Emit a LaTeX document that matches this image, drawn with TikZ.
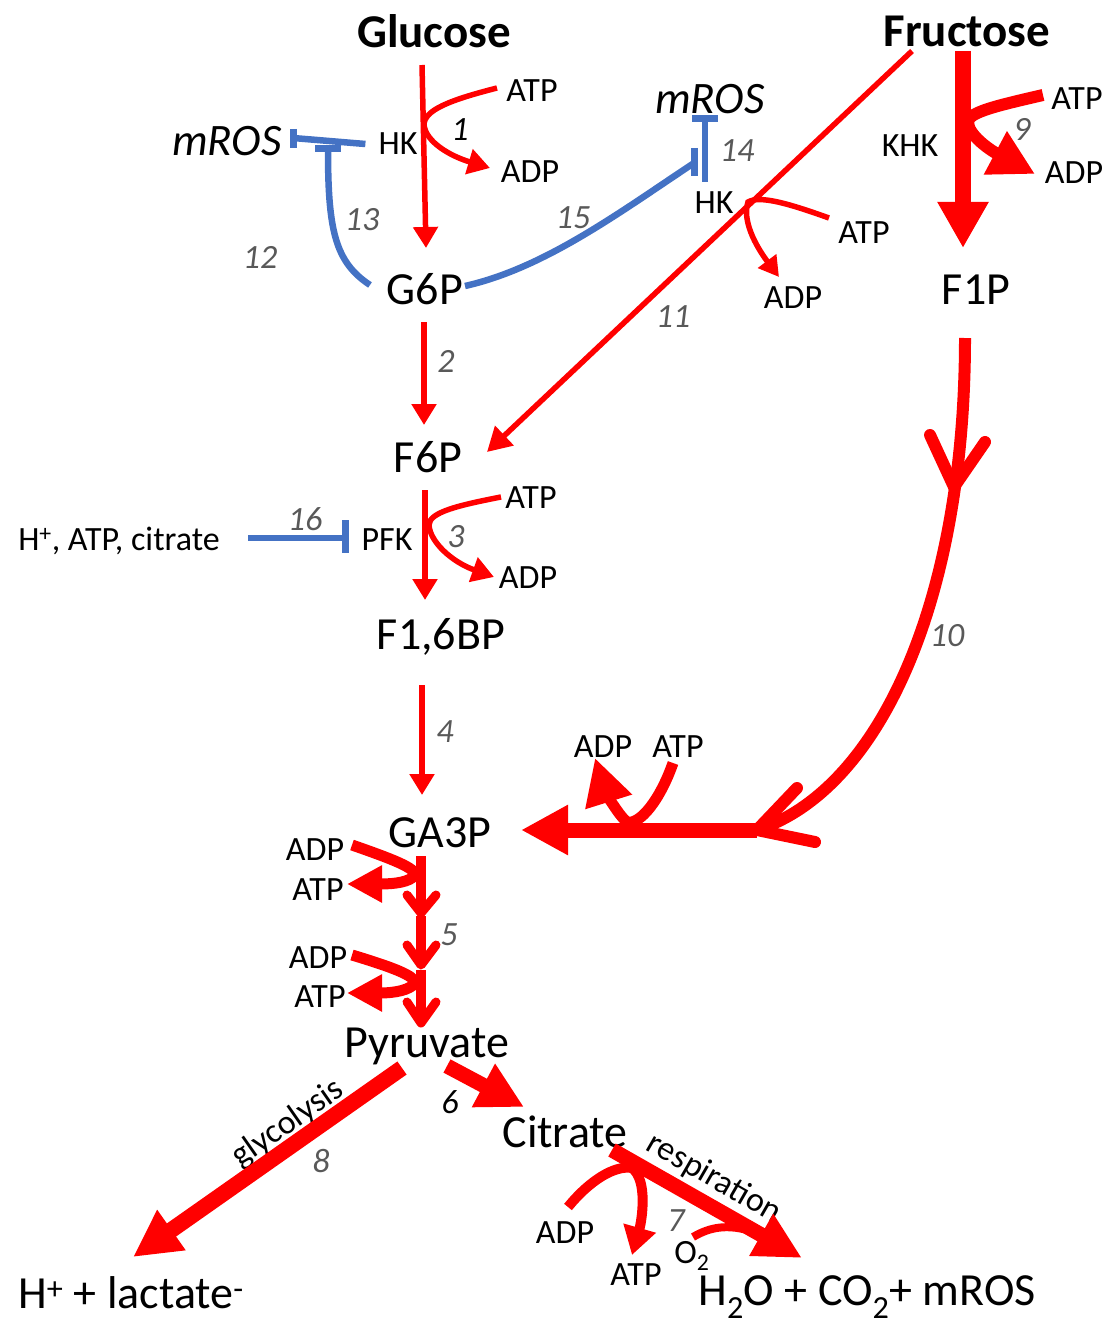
\documentclass[tikz,border=0pt]{standalone}
\usepackage{fontspec}
\setmainfont{Carlito}
\usetikzlibrary{arrows.meta}
\definecolor{myred}{RGB}{255,0,0}
\definecolor{myblue}{RGB}{68,114,196}
\definecolor{numgray}{RGB}{89,89,89}
\newcommand\fsz[1]{\fontsize{#1}{#1}\selectfont}
\begin{document}
\begin{tikzpicture}[x=1pt,y=-1pt,
  met/.style={font=\fsz{46}, inner sep=0pt, text height=29.6pt, text depth=0pt},
  bigb/.style={font=\fsz{47}\bfseries, inner sep=0pt, text height=30pt, text depth=0pt},
  ros/.style={font=\fsz{45}\itshape, inner sep=0pt, text height=29pt, text depth=0pt},
  sm/.style={font=\fsz{34}, inner sep=0pt, text height=21.9pt, text depth=0pt},
  num/.style={font=\fsz{34}\itshape, text=numgray, inner sep=0pt, text height=21.9pt, text depth=0pt},
  numk/.style={num, text=black},
  rthin/.style={draw=myred, line width=5.5pt},
  rmid/.style={draw=myred, line width=11pt},
  rthick/.style={draw=myred, line width=15pt},
  tipS/.style={-{Triangle[length=21pt,width=24pt]}},
  inh/.style={draw=myblue, line width=6.5pt},
  chev/.style={draw=myred, line cap=round, line join=round}
]
\useasboundingbox (0,0) rectangle (1107,1324);

% ---------- texts ----------
\node[bigb] (glu) at (434,33) {Glucose};
\node[bigb] (fru) at (967,32) {Fructose};
\node[sm] (atp1) at (532,91) {ATP};
\node[sm] (adp1) at (530,172) {ADP};
\node[sm] (hk1) at (398,144) {HK};
\node[ros] (ros1) at (227,141) {mROS};
\node[ros] (ros2) at (710,99) {mROS};
\node[sm] (hk2) at (714,203) {HK};
\node[sm] (atp2) at (864,233) {ATP};
\node[sm] (adp2) at (793,298) {ADP};
\node[sm] (khk) at (910,146) {KHK};
\node[sm] (atp3) at (1077,99) {ATP};
\node[sm] (adp3) at (1074,173) {ADP};
\node[met] (g6p) at (425,290) {G6P};
\node[met] (f1p) at (976,290) {F1P};
\node[met] (f6p) at (428,458) {F6P};
\node[sm] (atp4) at (531,498) {ATP};
\node[sm] (adp4) at (528,578) {ADP};
\node[sm] (pfk) at (387,540) {PFK};
\node[sm] (inhib) at (119,540) {H\textsuperscript{+}, ATP, citrate};
\node[met] (f16bp) at (441,635) {F1,6BP};
\node[met] (ga3p) at (440,833) {GA3P};
\node[sm] (adp5) at (603,747) {ADP};
\node[sm] (atp5) at (678,747) {ATP};
\node[sm] (adp6) at (315,850) {ADP};
\node[sm] (atp6) at (318,890) {ATP};
\node[sm] (adp7) at (318,958) {ADP};
\node[sm] (atp7) at (320,997) {ATP};
\node[met] (pyr) at (427,1043) {Pyruvate};
\node[met] (cit) at (565,1133) {Citrate};
\node[met] (lac) at (131,1294) {H\textsuperscript{+} + lactate\textsuperscript{-}};
\node[met] (prod) at (867,1291) {H\textsubscript{2}O + CO\textsubscript{2}+ mROS};
\node[sm] (adp8) at (565,1233) {ADP};
\node[sm] (atp8) at (636,1275) {ATP};
\node[sm] (o2) at (692,1253) {O\textsubscript{2}};
\node[sm, rotate=35] (glyc) at (287,1122) {glycolysis};
\node[sm, rotate=-30] (resp) at (715,1177) {respiration};

% ---------- numbers ----------
\node[numk] (n1) at (460,130) {1};
\node[num] (n2) at (446,362) {2};
\node[num] (n3) at (456,537) {3};
\node[num] (n4) at (445,732) {4};
\node[num] (n5) at (449,935) {5};
\node[numk] (n6) at (450,1103) {6};
\node[num] (n7) at (676,1221) {7};
\node[num] (n8) at (321,1162) {8};
\node[num] (n9) at (1022,130) {9};
\node[num] (n10) at (947,636) {10};
\node[num] (n11) at (673,317) {11};
\node[num] (n12) at (260,258) {12};
\node[num] (n13) at (362,220) {13};
\node[num] (n14) at (737,151) {14};
\node[num] (n15) at (573,218) {15};
\node[num] (n16) at (305,520) {16};

% ---------- coordinates ----------
\coordinate (gluS) at (422,65);
\coordinate (g6pN) at (426,248);
\coordinate (g6pS) at (424,322);
\coordinate (f6pN) at (424,425);
\coordinate (f6pS) at (425,490);
\coordinate (f16N) at (425,600);
\coordinate (f16S) at (422,685);
\coordinate (gaN) at (422,795);
\coordinate (fruSW) at (912,51);
\coordinate (f6pNE) at (487,452);
\coordinate (fruS) at (963,51);
\coordinate (f1pN) at (963,248);
\coordinate (f1pS) at (965,338);
\coordinate (join10) at (757,830);
\coordinate (gaE) at (521,830);

% ---------- glucose -> G6P (1) ----------
\draw[rthin, tipS] (gluS) -- (g6pN);
\draw[rthin, -{Triangle[length=22pt,width=25pt]}] (497,88) .. controls (450,100) and (424,110) .. (424,125)
      .. controls (426,142) and (450,156) .. (490,168);

% ---------- G6P -> F6P (2) ----------
\draw[rthin, tipS] (g6pS) -- (f6pN);

% ---------- F6P -> F1,6BP (3) ----------
\draw[rthin, tipS] (f6pS) -- (f16N);
\draw[rthin, -{Triangle[length=22pt,width=25pt]}] (501,497) .. controls (460,505) and (429,512) .. (429,525)
      .. controls (430,542) and (452,562) .. (494,577);

% ---------- F1,6BP -> GA3P (4) ----------
\draw[rthin, tipS] (f16S) -- (gaN);

% ---------- blue inhibitions ----------
\draw[inh] ([xshift=-13pt]hk1.west) -- (293,138);
\draw[draw=myblue, line width=7pt] (293,129) -- (293,148);
\draw[inh] (370,285) .. controls (335,262) and (328,230) .. (328,150);
\draw[draw=myblue, line width=7pt] (315,149) -- (341,149);
\draw[inh] (465,286) .. controls (545,268) and (620,212) .. (694,163);
\draw[draw=myblue, line width=7pt] (694,148) -- (694,176);
\draw[inh] (705,182) -- (705,119);
\draw[draw=myblue, line width=7pt] (692,119) -- (718,119);
\draw[inh] (248,538) -- (345,538);
\draw[draw=myblue, line width=7pt] (345,520) -- (345,553);

% ---------- fructose -> F6P (11) ----------
\draw[rthin, -{Triangle[length=24pt,width=26pt]}] (fruSW) -- (f6pNE);
\draw[rthin, -{Triangle[length=20pt,width=22pt]}] (829,218) .. controls (790,204) and (760,195) .. (748,202)
      .. controls (742,220) and (755,245) .. (779,277);

% ---------- fructose -> F1P (9) ----------
\draw[draw=myred, line width=16pt, -{Triangle[length=46pt,width=48pt]}] (fruS) -- (f1pN);
\draw[draw=myred, line width=12pt, -{Triangle[length=45pt,width=46pt]}] (1043,95) .. controls (1000,105) and (968,112) .. (968,122)
      .. controls (968,135) and (990,150) .. (1035,174);

% ---------- F1P -> GA3P (10) ----------
\draw[draw=myred, line width=12pt] (f1pS) .. controls (965,600) and (880,790) .. (join10);
\draw[chev, line width=12pt] (930,435) -- (954,487) -- (985,442);
\draw[chev, line width=12pt] (797,788) -- (join10) -- (815,842);
\draw[rthick, -{Triangle[length=47pt,width=47pt]}] (join10) -- (gaE);
\draw[rmid, -{Triangle[length=46pt,width=46pt]}] (673,763) .. controls (660,800) and (640,825) .. (627,822)
      .. controls (618,815) and (605,790) .. (595,758);

% ---------- GA3P -> Pyruvate (5) ----------
\draw[draw=myred, line width=10pt] (421,856) -- (421,911);
\draw[chev, line width=9pt] (407,895) -- (421,913) -- (436,895);
\draw[draw=myred, line width=10pt] (421,916) -- (421,963);
\draw[chev, line width=9pt] (407,945) -- (421,965) -- (436,945);
\draw[draw=myred, line width=10pt] (421,970) -- (421,1021);
\draw[chev, line width=9pt] (407,1002) -- (421,1023) -- (436,1002);
\draw[rmid, -{Triangle[length=35pt,width=35pt]}] (352,845) .. controls (395,860) and (415,868) .. (415,875)
      .. controls (410,882) and (395,884) .. (347,884);
\draw[rmid, -{Triangle[length=35pt,width=35pt]}] (352,955) .. controls (395,968) and (415,976) .. (415,983)
      .. controls (410,990) and (395,993) .. (347,993);

% ---------- Pyruvate branches ----------
\draw[draw=myred, line width=16pt, -{Triangle[length=47pt,width=46pt]}] (402,1068) -- (133,1257);
\draw[rthick, -{Triangle[length=46pt,width=46pt]}] (447,1066) -- (524,1107);
\draw[rthick, -{Triangle[length=47pt,width=45pt]}] (612,1150) -- (802,1258);
\draw[draw=myred, line width=10pt, -{Triangle[length=28pt,width=32pt]}] (568,1207) .. controls (590,1180) and (615,1165) .. (632,1168)
      .. controls (648,1180) and (642,1220) .. (632,1255);
\draw[draw=myred, line width=8pt] (693,1237) .. controls (710,1227) and (730,1222) .. (762,1235);
\end{tikzpicture}
\end{document}
